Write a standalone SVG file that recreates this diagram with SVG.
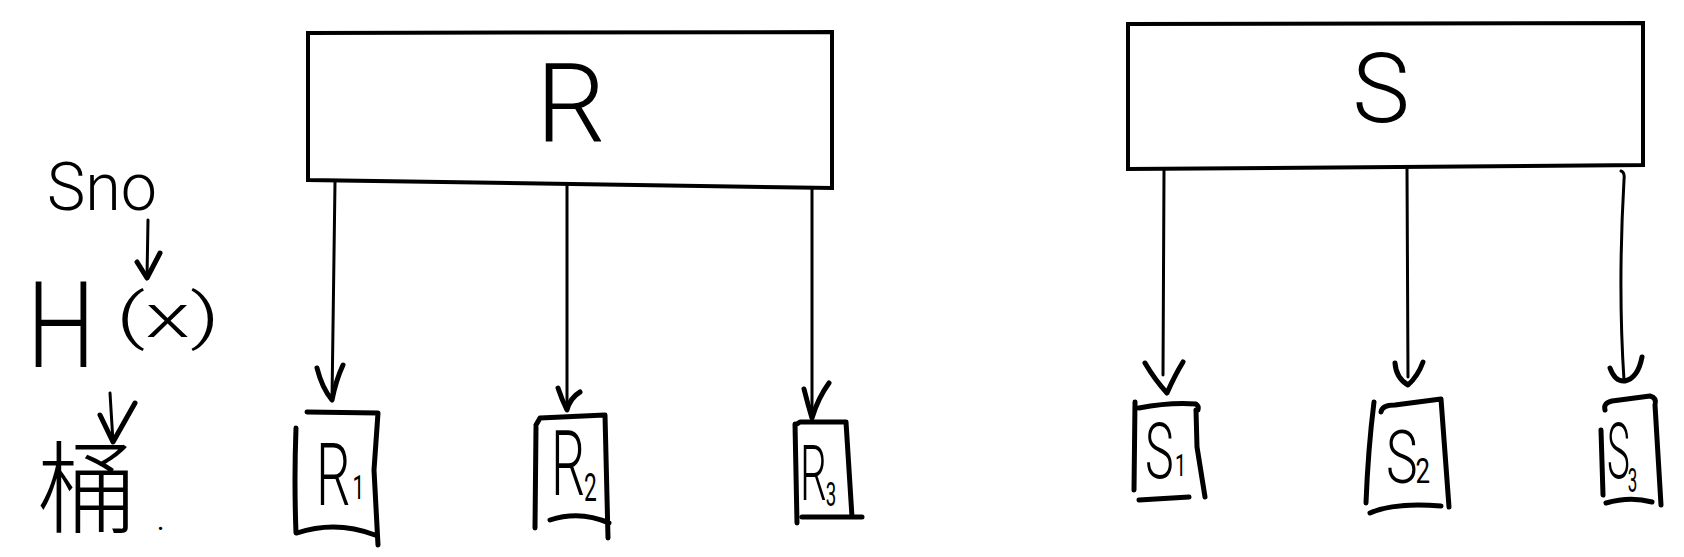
<svg xmlns="http://www.w3.org/2000/svg" width="1684" height="557" viewBox="0 0 1684 557">
<style>
.box{fill:#fff;stroke:#000;stroke-width:4;stroke-linejoin:miter}
.hand{fill:none;stroke:#000;stroke-width:5;stroke-linecap:round;stroke-linejoin:round}
.conn{fill:none;stroke:#000;stroke-width:3;stroke-linecap:round}
.head{fill:none;stroke:#000;stroke-width:5;stroke-linecap:round;stroke-linejoin:round}
.lbl{font-family:Roboto,"Liberation Sans",sans-serif;font-weight:300;fill:#000}
.sub{font-family:Roboto,"Liberation Sans",sans-serif;font-weight:400;fill:#000}
.cjk{font-family:"Noto Sans CJK SC","Noto Sans CJK JP",sans-serif;font-weight:200;fill:#000}
</style>
<rect width="1684" height="557" fill="#fff"/>

<g id="legend">
  <text class="lbl" x="47" y="210" font-size="66" textLength="110" lengthAdjust="spacingAndGlyphs">Sno</text>
  <text class="lbl" x="27" y="367" font-size="120" textLength="68" lengthAdjust="spacingAndGlyphs">H</text>
  <text class="lbl" x="116" y="337" font-size="62" textLength="104" lengthAdjust="spacingAndGlyphs">(x)</text>
  <text class="cjk" x="37" y="525" font-size="100">桶</text>
  <text class="lbl" x="156" y="530" font-size="40">.</text>
</g>

<g id="R">
  <polygon class="box" points="308,33 832,32 832,188 308,180"/>
  <text class="lbl" x="571" y="142" font-size="110" text-anchor="middle">R</text>
</g>
<g id="S">
  <polygon class="box" points="1128,24 1643,23 1643,165 1128,169"/>
  <text class="lbl" x="1381" y="122" font-size="97" text-anchor="middle">S</text>
</g>

<g id="R1">
  <path class="hand" d="M307,412 L378,413 M296,428 Q294,480 296,533 M378,413 L374,470 L378,545 M297,533 Q336,520 375,535"/>
  <text class="lbl" transform="translate(316,505) scale(0.62,1)" font-size="88">R<tspan class="sub" font-size="34" dx="3" dy="-6">1</tspan></text>
</g>
<g id="R2">
  <path class="hand" d="M536,425 L540,418 L605,415 M536,427 L535,528 M605,415 L608,538 M550,520 Q580,510 609,523"/>
  <text class="lbl" transform="translate(551,495) scale(0.6,1)" font-size="90">R<tspan class="sub" font-size="38" dx="-2" dy="6">2</tspan></text>
</g>
<g id="R3">
  <path class="hand" d="M797,424 L800,422 L846,422 M795,424 L797,523 M846,422 L852,517 M802,517 L862,517"/>
  <text class="lbl" transform="translate(800,500) scale(0.55,1)" font-size="77">R<tspan class="sub" font-size="34" dx="-2" dy="6">3</tspan></text>
</g>

<g id="S1">
  <path class="hand" d="M1135,402 L1134,490 M1139,408 Q1170,402 1196,404 Q1199,406 1198,410 M1196,410 L1197,447 L1205,497 M1139,500 L1189,497"/>
  <text class="lbl" transform="translate(1145,478) scale(0.62,1)" font-size="78">S<tspan class="sub" font-size="32" dx="2" dy="-2">1</tspan></text>
</g>
<g id="S2">
  <path class="hand" d="M1374,402 Q1368,450 1366,503 M1381,412 Q1382,405 1395,405 L1441,399 M1441,399 L1449,507 M1370,513 Q1395,502 1441,506"/>
  <text class="lbl" transform="translate(1386,483) scale(0.72,1)" font-size="74">S<tspan class="sub" font-size="36" dx="-3" dy="0">2</tspan></text>
</g>
<g id="S3">
  <path class="hand" d="M1601,430 L1603,495 M1605,410 Q1603,403 1612,401 L1650,396 Q1657,398 1655,405 L1661,505 M1606,503 Q1630,496 1652,502"/>
  <text class="lbl" transform="translate(1607,478) scale(0.5,1)" font-size="77">S<tspan class="sub" font-size="34" dx="-4" dy="14">3</tspan></text>
</g>

<g id="connectors">
  <path class="conn" d="M148,220 L147,278"/>
  <path class="head" d="M137,262 L147,278 L160,253"/>
  <path class="conn" d="M110,393 L113,442"/>
  <path class="head" d="M100,415 L113,442 L135,403"/>

  <path class="conn" d="M335,182 L332,400"/>
  <path class="head" d="M317,368 Q322,388 332,400 Q336,380 343,365"/>
  <path class="conn" d="M567,186 L567,410"/>
  <path class="head" d="M558,388 Q562,400 567,410 Q570,398 580,392"/>
  <path class="conn" d="M812,189 L812,418"/>
  <path class="head" d="M804,389 Q808,405 812,418 Q818,398 829,383"/>

  <path class="conn" d="M1164,170 L1163,375"/>
  <path class="head" d="M1145,363 Q1155,380 1167,393 Q1175,375 1183,362"/>
  <path class="conn" d="M1407,168 L1408,377"/>
  <path class="head" d="M1395,363 Q1396,378 1408,385 Q1418,376 1423,362"/>
  <path class="conn" d="M1621,171 Q1625,172 1624,180 C1620,250 1620,320 1624,380"/>
  <path class="head" d="M1610,368 Q1615,382 1625,381 Q1638,378 1642,357"/>
</g>
</svg>
